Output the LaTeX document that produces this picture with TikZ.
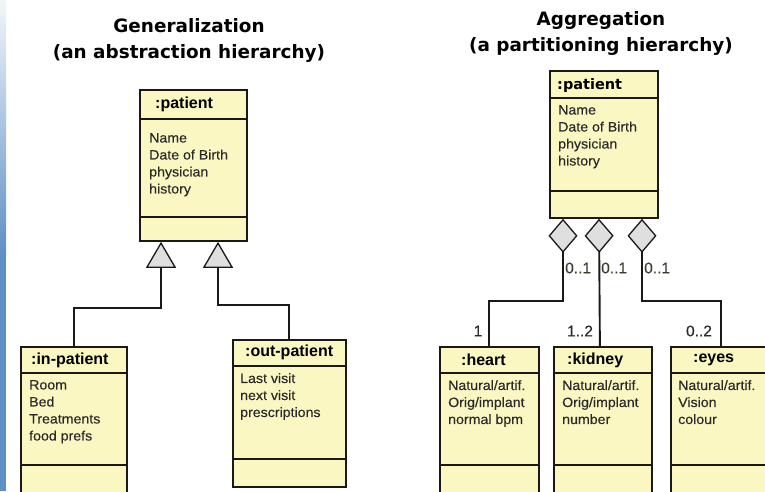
\documentclass[tikz,border=0pt]{standalone}
\usepackage{fontspec}
\setmainfont{Liberation Sans}
\newfontfamily\attrfont[FakeStretch=1.05,FakeBold=0.25]{Liberation Sans}
\newfontfamily\multfont[FakeBold=0.2]{Liberation Sans}
\newfontfamily\titlefont{DejaVu Sans}
\usetikzlibrary{arrows.meta}
\definecolor{boxfill}{HTML}{FAF7C2}
\definecolor{tipfill}{HTML}{DFDFDF}
\definecolor{attrtext}{HTML}{2A2A2A}
\definecolor{multtext}{HTML}{3D3A2C}
\definecolor{slideblue}{HTML}{5E8FC6}
\begin{document}
\begin{tikzpicture}[x=1pt,y=-1pt,
  umlbox/.style={draw=black!90, fill=boxfill, line width=1.8pt, inner sep=0pt,
                 anchor=north west, rectangle},
  divider/.style={line width=1.4pt, draw=black!90},
  hdr/.style={font=\fontsize{16}{18}\selectfont\bfseries, anchor=west, inner sep=0pt},
  comichdr/.style={font=\titlefont\bfseries\fontsize{14.5}{17}\selectfont, anchor=west, inner sep=0pt},
  attrs/.style={font=\attrfont\fontsize{13.5}{17}\selectfont, text=attrtext, align=left,
                anchor=north west, inner sep=0pt},
  ttl/.style={font=\titlefont\bfseries\fontsize{18.4}{26}\selectfont, align=center, inner sep=0pt},
  mult/.style={font=\multfont\fontsize{15.5}{17}\selectfont, inner sep=0pt},
  conn/.style={line width=1.9pt, draw=black!90},
  gen/.style={conn, {Triangle[length=26pt,width=30pt,fill=tipfill,line width=1.3pt]}-},
  agg/.style={conn, {Diamond[length=34pt,width=29pt,fill=tipfill,line width=1.3pt]}-}
]
\useasboundingbox (0,0) rectangle (765,491);
\clip (0,0) rectangle (765,491);

% slide edge on the left
\shade[top color=slideblue!8, bottom color=slideblue] (0,0) rectangle (6,255);
\fill[slideblue] (0,255) rectangle (6,491);

% ---------- titles ----------
\node[ttl] (gtitle) at (189,40) {Generalization\\(an abstraction hierarchy)};
\node[ttl] (atitle) at (601,33) {Aggregation\\(a partitioning hierarchy)};

% ---------- generalization side ----------
\node[umlbox, minimum width=107, minimum height=151] (lp) at (139,89) {};
\draw[divider] (139,119) -- (246,119);
\draw[divider] (139,217) -- (246,217);
\node[hdr] (lph) at (155,104) {:patient};
\node[attrs] (lpa) at (149,133) {Name\\Date of Birth\\physician\\history};

\node[umlbox, minimum width=106, minimum height=170] (ip) at (20,346) {};
\draw[divider] (20,373) -- (126,373);
\draw[divider] (20,465) -- (126,465);
\node[hdr] (iph) at (31,360) {:in-patient};
\node[attrs] (ipa) at (29,380) {Room\\Bed\\Treatments\\food prefs};

\node[umlbox, minimum width=113, minimum height=147] (op) at (232,339) {};
\draw[divider] (232,366) -- (345,366);
\draw[divider] (232,459) -- (345,459);
\node[hdr] (oph) at (245,352) {:out-patient};
\node[attrs] (opa) at (240,373) {Last visit\\next visit\\prescriptions};

\draw[gen] ([xshift=22pt]lp.south west) -- ++(0,66) -| (ip.north);
\draw[gen] ([xshift=79pt]lp.south west) -- ++(0,63) -| (op.north);

% ---------- aggregation side ----------
\node[umlbox, minimum width=108, minimum height=147] (rp) at (549,70) {};
\draw[divider] (549,98) -- (657,98);
\draw[divider] (549,191) -- (657,191);
\node[comichdr] (rph) at (557,85) {:patient};
\node[attrs] (rpa) at (558,105) {Name\\Date of Birth\\physician\\history};

\node[umlbox, minimum width=99, minimum height=170] (hp) at (439,346) {};
\draw[divider] (439,373) -- (538,373);
\draw[divider] (439,465) -- (538,465);
\node[hdr] (hph) at (461,360) {:heart};
\node[attrs] (hpa) at (448,380) {Natural/artif.\\Orig/implant\\normal bpm};

\node[umlbox, minimum width=98, minimum height=170] (kp) at (553,346) {};
\draw[divider] (553,373) -- (651,373);
\draw[divider] (553,465) -- (651,465);
\node[hdr] (kph) at (567,360) {:kidney};
\node[attrs] (kpa) at (562,380) {Natural/artif.\\Orig/implant\\number};
\coordinate (kin) at ([xshift=-3pt]kp.north);

\node[umlbox, minimum width=100, minimum height=170] (ep) at (670,346) {};
\draw[divider] (670,373) -- (770,373);
\draw[divider] (670,465) -- (770,465);
\node[hdr] (eph) at (693,360) {:eyes};
\node[attrs] (epa) at (678,380) {Natural/artif.\\Vision\\colour};

\draw[agg] ([xshift=14pt]rp.south west) -- ++(0,82) -| (hp.north);
\draw[agg] ([xshift=50pt]rp.south west) -- (kin);
\draw[agg] ([xshift=93pt]rp.south west) -- ++(0,82) -| (ep.north);

% multiplicities
\node[mult, text=multtext, anchor=west] (m1) at (565,268) {0..1};
\node[mult, text=multtext, anchor=west] (m2) at (601,268) {0..1};
\node[mult, text=multtext, anchor=west] (m3) at (644,268) {0..1};
\node[mult, text=attrtext] (n1) at (478,331) {1};
\node[mult, text=attrtext] (n2) at (580,331) {1..2};
\node[mult, text=attrtext] (n3) at (699,331) {0..2};
\end{tikzpicture}
\end{document}
